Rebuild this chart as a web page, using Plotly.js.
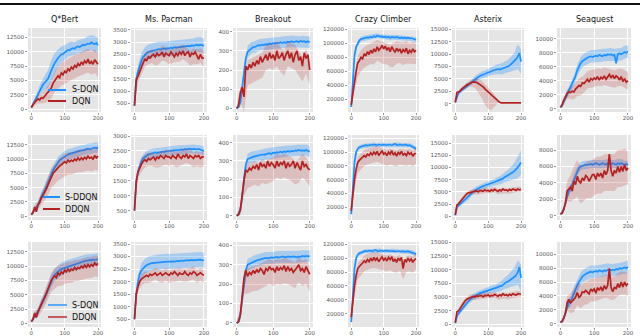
<!DOCTYPE html>
<html><head><meta charset="utf-8">
<script src="https://cdn.plot.ly/plotly-3.0.1.min.js"></script>
<style>html,body{margin:0;padding:0;background:#fff;}#chart{width:640px;height:336px;}</style>
</head><body><div id="chart"></div>
<script>
// ---------- DATA ----------
const games = ["Q*Bert", "Ms. Pacman", "Breakout", "Crazy Climber", "Asterix", "Seaquest"];
const rowNames = [["S-DQN", "DQN"], ["S-DDQN", "DDQN"], ["S-DQN", "DDQN"]];
const steps = [0,5,10,15,20,25,30,35,40,45,50,55,60,65,70,75,80,85,90,95,100,105,110,115,120,125,130,135,140,145,150,155,160,165,170,175,180,185,190,195,200];
const bandSteps = [0,10,20,30,40,50,60,70,80,90,100,110,120,130,140,150,160,170,180,190,200];

// Row 1: S-DQN (blue) vs DQN (red)
const qbert1Blue = [300,900,1500,2100,2700,3300,3900,4300,4600,4900,5300,6000,6800,7400,8000,8500,8900,9200,9500,9600,9800,10000,10300,10200,10500,10600,10500,10800,10900,10800,11000,11200,11100,11300,11400,11300,11600,11400,11300,11500,11100];
const qbert1BlueSpread = [200,400,700,900,1200,1500,1800,1700,1500,1400,1300,1200,1200,1100,1100,1200,1200,1300,1300,1400,1300];
const qbert1Red = [300,800,1200,1500,1800,1600,2000,1900,2300,2600,2900,3300,3700,4500,5000,5400,5800,5500,6300,6000,6600,6400,7000,6700,7300,7000,7600,7300,7900,7500,8200,7800,8400,8000,8700,7900,8300,7800,8600,8200,7800];
const qbert1RedUp = [200,500,700,900,1000,1200,1400,1500,1600,1700,1800,1800,1800,1800,1800,1800,1800,1800,1800,1800,1800];
const qbert1RedDn = [200,500,800,1000,1200,1500,1800,2000,2200,2200,2200,2200,2200,2200,2200,2300,2300,2300,2300,2300,2300];

const pacman1Blue = [400,1500,1800,2050,2250,2400,2500,2550,2600,2620,2650,2680,2700,2690,2720,2700,2730,2750,2720,2760,2750,2780,2760,2800,2780,2790,2800,2820,2800,2830,2820,2850,2830,2870,2850,2880,2900,2860,2900,2880,2850];
const pacman1BlueSpread = [100,250,300,300,300,300,300,300,300,300,300,300,300,300,300,300,300,300,300,300,300];
const pacman1Red = [400,1450,1600,1800,2000,2150,2300,2250,2400,2350,2450,2500,2400,2550,2450,2500,2600,2400,2550,2500,2450,2600,2500,2400,2550,2450,2600,2500,2650,2450,2550,2600,2400,2550,2500,2600,2450,2300,2500,2350,2350];
const pacman1RedUp = [100,200,250,250,250,250,250,250,250,250,250,250,250,250,250,250,250,250,250,250,250];
const pacman1RedDn = [100,250,300,300,300,300,350,350,350,350,350,350,350,400,350,350,350,400,350,350,350];

const breakout1Blue = [0,5,30,100,190,260,295,305,315,320,320,325,330,328,332,330,335,333,338,335,340,338,342,340,345,340,345,342,348,345,350,345,348,350,345,352,348,350,345,350,345];
const breakout1BlueSpread = [5,20,30,30,30,30,30,30,30,30,30,30,30,30,30,30,30,30,30,30,30];
const breakout1Red = [0,15,80,110,60,220,200,230,210,240,220,250,230,270,240,260,280,250,290,260,280,250,300,260,270,290,250,280,300,260,290,240,280,300,250,270,220,290,260,280,200];
const breakout1RedUp = [5,30,40,50,50,50,50,50,50,50,50,50,50,50,50,50,50,50,50,50,50];
const breakout1RedDn = [5,40,80,80,80,80,80,80,80,80,80,80,80,80,80,80,80,80,80,80,80];

const climber1Blue = [9000,55000,82000,95000,100000,104000,106000,107000,107500,108000,108500,108000,109000,108500,110000,109000,111000,110000,109500,110000,109000,109500,108500,109000,108000,109000,108500,108000,109000,108000,107500,108500,107500,108000,107000,108000,107000,107500,106500,106000,105000];
const climber1BlueSpread = [2000,5000,4000,3500,3500,3500,3500,3500,3500,3500,3500,3500,3500,3500,3500,3500,3500,3500,3500,3500,3500];
const climber1Red = [12000,30000,48000,60000,72000,75000,80000,78000,85000,82000,88000,84000,90000,86000,92000,88000,95000,90000,93000,97000,92000,96000,90000,94000,88000,95000,91000,87000,93000,89000,92000,86000,91000,88000,93000,85000,90000,87000,92000,88000,90000];
const climber1RedUp = [3000,8000,10000,10000,10000,10000,10000,10000,10000,10000,10000,10000,10000,10000,10000,10000,10000,10000,10000,10000,10000];
const climber1RedDn = [3000,15000,20000,20000,20000,20000,20000,22000,20000,20000,22000,20000,22000,25000,22000,20000,22000,22000,20000,22000,20000];

const asterix1Blue = [300,1500,2200,2500,2800,3100,3300,3500,3800,4100,4400,4700,5000,5200,5400,5600,5800,5900,6000,6200,6300,6400,6600,6700,6800,6900,7000,6900,7000,7100,7200,7400,7500,7700,8000,8200,8500,9000,9500,10200,8500];
const asterix1BlueSpread = [100,400,500,500,500,500,600,600,700,700,800,800,900,1000,1100,1200,1300,1500,1800,2500,2500];
const asterix1Red = [300,2300,2400,2600,3000,3200,3500,3800,4000,4200,4300,4400,4400,4300,4100,3900,3700,3400,3000,2700,2400,2000,1700,1300,1000,700,500,300,200,200,200,200,200,200,200,200,200,200,200,200,200];
const asterix1RedUp = [100,300,400,500,500,600,800,900,1000,1000,1000,900,700,300,150,100,100,100,100,100,100];
const asterix1RedDn = [100,300,400,500,500,800,1200,1800,2500,3200,3400,3000,1500,400,150,100,100,100,100,100,100];

const seaquest1Blue = [200,400,1000,1500,2200,2500,3000,3500,4000,4700,5500,6100,6500,6800,7000,7200,7300,7400,7500,7400,7500,7600,7500,7700,7600,7500,7700,7600,7800,7700,7800,7600,7700,6500,7800,7900,7800,8000,8100,8000,8200];
const seaquest1BlueSpread = [100,400,500,600,700,800,900,900,900,900,900,900,900,900,900,900,900,900,900,900,900];
const seaquest1Red = [200,500,1200,1800,2200,2400,2300,2500,2400,2800,3000,3300,3200,3700,3600,4000,4200,3800,4300,4100,4400,4200,4600,4100,4500,4300,4700,4200,4600,4900,4400,4800,4300,4700,4500,4100,4600,3900,4300,3800,4000];
const seaquest1RedUp = [100,500,600,800,1000,1100,1200,1200,1200,1200,1200,1200,1200,1200,1200,1200,1200,1200,1200,1200,1200];
const seaquest1RedDn = [100,500,700,900,1100,1200,1300,1300,1300,1300,1300,1300,1300,1300,1300,1300,1300,1300,1300,1300,1300];

// Row 2: S-DDQN (blue) vs DDQN (red)
const qbert2Blue = [300,700,1100,1500,2000,2700,3500,4000,4500,5200,6000,6800,7500,8000,8500,9000,9500,9800,10000,10200,10500,10600,10800,10900,11000,11100,11200,11200,11300,11400,11500,11500,11600,11700,11800,11700,11800,11900,12000,11900,12000];
const qbert2BlueSpread = [200,400,500,700,800,900,900,900,900,900,900,900,900,900,900,900,900,900,900,900,900];
const qbert2Red = [300,600,1600,800,2000,2400,3200,3600,4200,4800,5500,6200,7000,7500,7800,8200,8500,8800,9000,9300,9500,9300,9800,9500,9800,9600,10000,9700,10200,9800,10200,9900,10300,10000,10500,10100,10300,9900,10600,10200,10500];
const qbert2RedUp = [200,500,700,900,1000,1200,1300,1300,1400,1400,1400,1400,1400,1400,1400,1400,1400,1400,1400,1400,1400];
const qbert2RedDn = [200,600,900,1200,1500,1800,2000,2200,2300,2400,2500,2500,2500,2500,2500,2500,2500,2500,2500,2500,2500];

const pacman2Blue = [500,1500,1800,2000,2150,2250,2300,2350,2380,2400,2420,2430,2450,2440,2460,2470,2480,2470,2490,2500,2500,2510,2520,2510,2530,2520,2540,2550,2540,2560,2550,2560,2580,2550,2570,2560,2550,2570,2540,2530,2500];
const pacman2BlueSpread = [50,150,150,150,150,150,150,150,150,150,150,150,150,150,150,150,150,150,150,150,150];
const pacman2Red = [500,1450,1800,1950,2050,2150,2200,2150,2250,2200,2250,2300,2200,2300,2250,2350,2300,2250,2350,2300,2300,2250,2350,2300,2250,2400,2300,2250,2350,2300,2400,2250,2350,2300,2250,2350,2300,2350,2250,2300,2300];
const pacman2RedUp = [50,150,200,200,200,200,200,200,200,200,200,200,200,200,200,200,200,200,200,200,200];
const pacman2RedDn = [50,200,250,250,250,250,250,300,300,300,300,300,300,300,300,300,300,300,300,300,300];

const breakout2Blue = [0,5,30,100,200,280,310,315,320,322,325,328,330,332,335,333,338,340,342,338,345,343,348,345,350,346,352,348,355,350,355,352,358,355,360,356,358,355,360,356,350];
const breakout2BlueSpread = [5,20,30,30,30,30,30,30,30,30,30,30,30,30,30,30,30,30,30,30,30];
const breakout2Red = [0,5,30,130,190,250,240,260,250,270,260,280,250,290,270,280,260,300,270,290,280,260,300,270,290,280,300,260,290,270,280,300,260,290,270,250,300,270,280,260,250];
const breakout2RedUp = [5,30,40,40,40,40,40,40,40,40,40,40,40,40,40,40,40,40,40,40,40];
const breakout2RedDn = [5,30,80,90,90,90,90,90,90,90,90,90,90,90,90,90,90,90,90,90,90];

const climber2Blue = [10000,50000,85000,100000,105000,107000,108000,109000,109000,110000,109500,110000,110500,110000,111000,110500,110000,111000,110500,110000,111000,110500,110000,111000,110500,110000,111000,112000,110500,110000,111000,110500,110000,111000,110000,109500,110000,109000,108000,107000,105000];
const climber2BlueSpread = [3000,5000,3000,3000,3000,3000,3000,3000,3000,3000,3000,3000,3000,3000,3000,3000,3000,3000,3000,3000,3000];
const climber2Red = [15000,40000,60000,75000,85000,88000,90000,92000,95000,93000,97000,95000,99000,96000,100000,97000,101000,95000,98000,102000,97000,99000,95000,100000,97000,102000,96000,99000,94000,100000,97000,101000,96000,98000,95000,100000,97000,99000,94000,98000,98000];
const climber2RedUp = [3000,8000,8000,8000,8000,8000,8000,8000,8000,8000,8000,8000,8000,8000,8000,8000,8000,8000,8000,8000,8000];
const climber2RedDn = [3000,15000,15000,15000,15000,15000,15000,15000,15000,15000,15000,15000,15000,15000,15000,15000,15000,15000,15000,15000,15000];

const asterix2Blue = [200,2000,2200,2500,2800,3000,3300,3600,4000,4400,4800,5100,5300,5500,5700,5900,6000,6200,6300,6400,6500,6700,6800,6900,7000,7200,7300,7400,7500,7700,8000,8200,8300,8500,8800,9000,9300,9600,10000,10500,11000];
const asterix2BlueSpread = [100,400,500,500,600,600,600,600,600,600,600,700,700,800,900,1000,1200,1400,1700,2200,2500];
const asterix2Red = [300,2300,2600,3000,3500,3900,4300,4600,4800,4900,5000,5100,5100,5200,5000,5300,5200,5100,5400,5200,5300,5100,5400,5200,5500,5300,5100,5400,5200,5600,5300,5400,5200,5500,5300,5600,5400,5300,5600,5400,5500];
const asterix2RedUp = [100,300,400,400,400,500,500,500,500,500,500,500,500,500,500,500,500,500,500,500,500];
const asterix2RedDn = [100,300,400,500,500,600,600,600,600,600,600,600,600,600,600,600,600,600,600,600,600];

const seaquest2Blue = [200,300,800,1500,2500,3000,3300,3800,4500,5000,5500,5800,6000,6100,6200,6200,6200,6300,6300,6200,6300,6400,6300,6200,6300,6400,6300,6200,6400,6300,6300,6400,6300,6200,6400,6300,6400,6300,6200,6300,6200];
const seaquest2BlueSpread = [100,300,400,500,500,500,500,500,500,500,500,500,500,500,500,500,500,500,500,500,500];
const seaquest2Red = [200,300,800,1500,3000,3200,3500,3000,4200,3800,4800,4200,4000,4600,4300,4900,4700,4200,4600,5000,5000,4400,5200,4800,5200,4600,5500,5000,5500,7500,5500,4800,5500,5200,6000,5300,6000,5400,6200,5500,5800];
const seaquest2RedUp = [100,300,1200,1500,1800,2000,2000,2000,2000,2000,2000,2000,2000,2000,2000,2000,2000,2000,2000,2000,2000];
const seaquest2RedDn = [100,300,1200,1800,2200,2500,2500,2500,2500,2500,2500,2500,2500,2500,2500,2500,2500,2500,2500,2500,2000];

// Row 3: S-DQN (blue) vs DDQN (red)
const qbert3Blue = [300,800,1200,1700,2000,2700,3500,4000,4500,5200,6000,6800,7500,8000,8500,8800,9000,9300,9500,9600,9800,9900,10000,10100,10200,10300,10400,10500,10500,10600,10800,10800,10900,11000,11000,11100,11000,11200,11100,11200,11200];
const qbert3BlueSpread = [200,500,700,800,900,1000,1100,1100,1100,1100,1100,1100,1100,1100,1100,1100,1100,1100,1100,1100,1100];
const qbert3Red = [300,700,1800,1000,2000,2600,3200,3800,4500,5200,6000,6800,7500,8000,8300,8000,8800,8500,9000,8700,9300,9000,9500,9100,9500,9300,9800,9400,9800,9600,10000,9700,10200,9800,10300,9900,10300,10000,10600,10200,10500];
const qbert3RedUp = [200,500,700,900,1000,1200,1300,1300,1300,1300,1300,1300,1300,1300,1300,1300,1300,1300,1300,1300,1300];
const qbert3RedDn = [200,700,900,1200,1500,1800,2000,2200,2300,2400,2400,2400,2400,2400,2400,2400,2400,2400,2400,2400,2400];

const pacman3Blue = [500,1500,2000,2300,2450,2550,2600,2650,2700,2720,2740,2750,2760,2770,2780,2790,2800,2790,2810,2800,2800,2820,2810,2800,2820,2830,2810,2840,2830,2850,2840,2860,2850,2870,2850,2860,2870,2850,2880,2860,2850];
const pacman3BlueSpread = [50,250,300,300,300,300,300,300,300,300,300,300,300,300,300,300,300,300,300,300,300];
const pacman3Red = [500,1500,1800,2000,2100,2150,2200,2250,2200,2300,2250,2300,2350,2250,2300,2350,2250,2300,2350,2300,2250,2350,2300,2400,2300,2250,2350,2300,2300,2400,2300,2250,2350,2300,2400,2350,2250,2300,2350,2300,2250];
const pacman3RedUp = [50,150,200,200,200,200,200,200,200,200,200,200,200,200,200,200,200,200,200,200,200];
const pacman3RedDn = [50,200,250,250,250,250,250,300,300,300,300,300,300,300,300,300,300,300,300,300,300];

const breakout3Blue = [0,5,40,120,200,270,300,305,310,315,320,322,325,328,330,332,335,333,336,338,335,338,340,337,340,342,340,338,342,340,340,343,340,338,342,340,345,342,345,343,345];
const breakout3BlueSpread = [5,20,30,30,30,30,30,30,30,30,30,30,30,30,30,30,30,30,30,30,30];
const breakout3Red = [0,5,40,150,230,270,240,260,250,270,255,275,260,280,270,250,280,270,290,275,280,260,290,270,285,275,295,265,290,270,280,260,270,285,300,270,280,260,290,270,250];
const breakout3RedUp = [5,30,40,40,40,40,40,40,40,40,40,40,40,40,40,40,40,40,40,40,40];
const breakout3RedDn = [5,30,80,90,90,90,90,90,90,90,90,90,90,90,90,90,90,90,90,90,90];

const climber3Blue = [8000,50000,85000,100000,105000,107000,108000,109000,110000,110500,110000,111000,110500,110000,111000,112000,110500,110000,111000,110500,110000,111000,110500,110000,110500,110000,110500,109500,110000,110500,110000,109500,110000,109000,109500,110000,109000,108500,108000,107000,106000];
const climber3BlueSpread = [3000,5000,3000,3000,3000,3000,3000,3000,3000,3000,3000,3000,3000,3000,3000,3000,3000,3000,3000,3000,3000];
const climber3Red = [15000,40000,60000,75000,85000,88000,90000,93000,96000,94000,98000,95000,100000,96000,101000,97000,100000,95000,99000,102000,97000,100000,96000,101000,98000,102000,95000,99000,94000,100000,97000,101000,85000,98000,95000,100000,96000,99000,94000,98000,99000];
const climber3RedUp = [3000,8000,8000,8000,8000,8000,8000,8000,8000,8000,8000,8000,8000,8000,8000,8000,8000,8000,8000,8000,8000];
const climber3RedDn = [3000,15000,15000,15000,15000,15000,15000,15000,15000,15000,15000,15000,15000,15000,15000,15000,15000,15000,15000,15000,15000];

const asterix3Blue = [200,1500,2000,2400,2800,3100,3500,3800,4200,4500,4800,5000,5200,5400,5500,5700,5800,5900,6000,6100,6200,6300,6400,6500,6500,6700,6800,7000,7000,7200,7500,7700,7800,8000,8300,8500,8700,9000,9500,10500,8500];
const asterix3BlueSpread = [100,400,500,500,500,500,600,600,600,600,600,700,700,800,900,1000,1200,1400,1700,2200,2500];
const asterix3Red = [300,2300,2500,3000,3500,3900,4300,4600,4800,4900,5000,5100,5000,5200,5100,5300,5200,5000,5300,5200,5400,5100,5300,5200,5500,5300,5100,5400,5200,5600,5300,5400,5200,5500,5300,5600,5400,5300,5600,5500,5500];
const asterix3RedUp = [100,300,400,400,400,500,500,500,500,500,500,500,500,500,500,500,500,500,500,500,500];
const asterix3RedDn = [100,300,400,500,500,600,600,600,600,600,600,600,600,600,600,600,600,600,600,600,600];

const seaquest3Blue = [200,300,800,1500,2500,3000,3200,3800,4500,5000,5500,6000,6500,6800,7000,7200,7300,7400,7500,7400,7500,7600,7500,7700,7600,7500,7700,7600,7800,7700,7700,7800,7700,7900,7800,8000,7900,8000,8100,8000,8200];
const seaquest3BlueSpread = [100,300,500,700,800,900,900,900,900,900,900,900,900,900,900,900,900,900,900,900,900];
const seaquest3Red = [200,300,800,1500,3000,3500,3000,3200,3500,3800,4500,3800,4000,4600,4500,4800,4600,4300,5000,4700,5000,4400,5200,4800,5300,4700,5500,5000,5500,8000,5200,4600,5300,5000,5800,5200,6000,5300,6000,5500,5800];
const seaquest3RedUp = [100,300,1000,1300,1500,1500,1500,1500,1500,1500,1500,1500,1500,1500,1500,1500,1500,1500,1500,1500,1500];
const seaquest3RedDn = [100,300,1000,1500,1800,1800,1800,1800,1800,1800,1800,1800,1800,1800,1800,1800,1800,1800,1800,1800,1800];

// ---------- LAYOUT CONFIG ----------
const panels = [
  [qbert1Blue,qbert1BlueSpread,qbert1Red,qbert1RedUp,qbert1RedDn],
  [pacman1Blue,pacman1BlueSpread,pacman1Red,pacman1RedUp,pacman1RedDn],
  [breakout1Blue,breakout1BlueSpread,breakout1Red,breakout1RedUp,breakout1RedDn],
  [climber1Blue,climber1BlueSpread,climber1Red,climber1RedUp,climber1RedDn],
  [asterix1Blue,asterix1BlueSpread,asterix1Red,asterix1RedUp,asterix1RedDn],
  [seaquest1Blue,seaquest1BlueSpread,seaquest1Red,seaquest1RedUp,seaquest1RedDn],
  [qbert2Blue,qbert2BlueSpread,qbert2Red,qbert2RedUp,qbert2RedDn],
  [pacman2Blue,pacman2BlueSpread,pacman2Red,pacman2RedUp,pacman2RedDn],
  [breakout2Blue,breakout2BlueSpread,breakout2Red,breakout2RedUp,breakout2RedDn],
  [climber2Blue,climber2BlueSpread,climber2Red,climber2RedUp,climber2RedDn],
  [asterix2Blue,asterix2BlueSpread,asterix2Red,asterix2RedUp,asterix2RedDn],
  [seaquest2Blue,seaquest2BlueSpread,seaquest2Red,seaquest2RedUp,seaquest2RedDn],
  [qbert3Blue,qbert3BlueSpread,qbert3Red,qbert3RedUp,qbert3RedDn],
  [pacman3Blue,pacman3BlueSpread,pacman3Red,pacman3RedUp,pacman3RedDn],
  [breakout3Blue,breakout3BlueSpread,breakout3Red,breakout3RedUp,breakout3RedDn],
  [climber3Blue,climber3BlueSpread,climber3Red,climber3RedUp,climber3RedDn],
  [asterix3Blue,asterix3BlueSpread,asterix3Red,asterix3RedUp,asterix3RedDn],
  [seaquest3Blue,seaquest3BlueSpread,seaquest3Red,seaquest3RedUp,seaquest3RedDn]
];

const W = 640, H = 336;
const colPx = [[28,101],[131,207],[233,313],[348,419],[452,524],[557,631]];
const rowPx = [[28,112],[135,220],[242,327]];
const yRanges = [
  [[-470,14100],[144,3580],[-19,419],[1860,121860],[-1650,15260],[-480,11560]],
  [[-650,14190],[190,3035],[-24,442],[1600,124800],[-760,16640],[-520,9830]],
  [[-650,14250],[193,3580],[-21,417],[840,123300],[-500,15060],[-480,11780]]
];
const yDtick = [2500,500,100,20000,2500,2000];
const BLUE = '#1E90FF', RED = '#B22222';
const BLUE_FILL = 'rgba(30,144,255,0.30)', RED_FILL = 'rgba(178,34,34,0.20)';
// legend box per row: [handle x0, handle x1, text x, entry1 y, entry2 y] in pixels
const legendPx = [[48,66,70,90,101],[43,60,63,197,209],[48,67,70,305,317]];
const legendAlpha = [1, 1, 0.7];

const traces = [];
const layout = {
  width: W, height: H,
  margin: {l:0, r:0, t:0, b:0},
  paper_bgcolor: '#ffffff',
  plot_bgcolor: '#E5E5E5',
  font: {family: 'DejaVu Sans', color: '#555555'},
  showlegend: false,
  annotations: [],
  shapes: [{type:'line', xref:'paper', yref:'paper', x0:0, x1:1, y0:1-4/H, y1:1-4/H, line:{color:'#111', width:2}}]
};

function band(mean, up, dn) {
  const lo = bandSteps.map((s,i) => mean[2*i] - dn[i]);
  const hi = bandSteps.map((s,i) => mean[2*i] + up[i]);
  return {x: bandSteps.concat(bandSteps.slice().reverse()), y: hi.concat(lo.slice().reverse())};
}

for (let r = 0; r < 3; r++) {
  for (let c = 0; c < 6; c++) {
    const k = r*6 + c + 1;
    const sfx = k === 1 ? '' : String(k);
    const [blue, bSpread, red, rUp, rDn] = panels[k-1];
    const xa = 'x' + sfx, ya = 'y' + sfx;
    const bb = band(blue, bSpread, bSpread);
    const rb = band(red, rUp, rDn);
    traces.push({x: bb.x, y: bb.y, xaxis: xa, yaxis: ya, type:'scatter', mode:'lines', fill:'toself',
      fillcolor: BLUE_FILL, line:{width:0, color: BLUE_FILL}, hoverinfo:'skip'});
    traces.push({x: steps, y: blue, xaxis: xa, yaxis: ya, type:'scatter', mode:'lines',
      line:{color: BLUE, width:1.7}, name: rowNames[r][0]});
    traces.push({x: rb.x, y: rb.y, xaxis: xa, yaxis: ya, type:'scatter', mode:'lines', fill:'toself',
      fillcolor: RED_FILL, line:{width:0, color: RED_FILL}, hoverinfo:'skip'});
    traces.push({x: steps, y: red, xaxis: xa, yaxis: ya, type:'scatter', mode:'lines',
      line:{color: RED, width:1.7}, name: rowNames[r][1]});

    const common = {showgrid:true, gridcolor:'#ffffff', gridwidth:1, zeroline:false, showline:false,
      ticks:'outside', ticklen:2, tickwidth:0.6, tickcolor:'#555555',
      tickfont:{size:5.5, color:'#555555', family:'DejaVu Sans'}, fixedrange:true};
    layout['xaxis' + sfx] = Object.assign({}, common, {
      domain:[colPx[c][0]/W, colPx[c][1]/W], anchor: ya, range:[-10,209],
      tick0:0, dtick:100, tickformat:'d', ticklabelstandoff:-2});
    layout['yaxis' + sfx] = Object.assign({}, common, {
      domain:[1 - rowPx[r][1]/H, 1 - rowPx[r][0]/H], anchor: xa, range: yRanges[r][c],
      tick0:0, dtick: yDtick[c], tickformat:'d'});
    if (r === 0) {
      layout.annotations.push({text: games[c], xref:'paper', yref:'paper',
        x: (colPx[c][0] + colPx[c][1]) / 2 / W, y: 1 - 19/H, xanchor:'center', yanchor:'middle',
        showarrow:false, font:{size:8, color:'#111111', family:'DejaVu Sans'}});
    }
  }
  // legend for this row, drawn inside the first-column panel
  const [hx0, hx1, tx, ey1, ey2] = legendPx[r];
  const a = legendAlpha[r];
  [[ey1, `rgba(30,144,255,${a})`, rowNames[r][0]], [ey2, `rgba(178,34,34,${a})`, rowNames[r][1]]].forEach(([ey, col, label]) => {
    layout.shapes.push({type:'line', xref:'paper', yref:'paper', x0:hx0/W, x1:hx1/W, y0:1-ey/H, y1:1-ey/H,
      line:{color: col, width:2}});
    layout.annotations.push({text: label, xref:'paper', yref:'paper', x: tx/W, y: 1-ey/H,
      xanchor:'left', yanchor:'middle', showarrow:false, font:{size:8, color:'#111111', family:'DejaVu Sans'}});
  });
}

Plotly.newPlot('chart', traces, layout, {displayModeBar:false, staticPlot:true});
</script></body></html>
